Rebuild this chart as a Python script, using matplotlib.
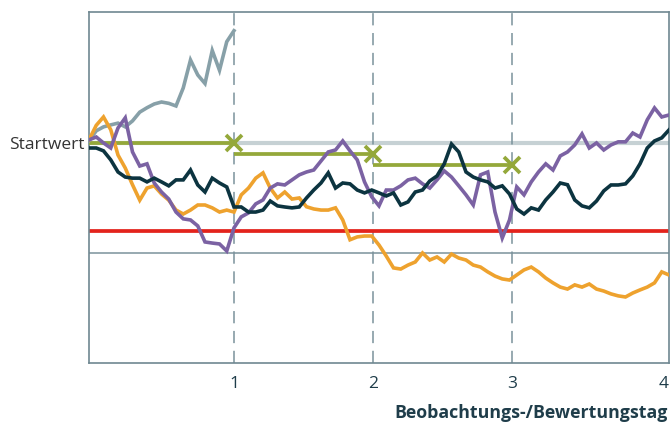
import numpy as np
import matplotlib.pyplot as plt

# Zeitachse (Jahre), Stützstellen alle 0.05
time = np.round(np.arange(0, 4.0 + 1e-9, 0.05), 2)
obs_times = [1.0, 1.96, 2.92, 4.0]
obs_labels = ["1", "2", "3", "4"]

start_level = 100
barrier_level = 60
floor_level = 50
autocall_levels = [100, 95, 90]

# Kursverläufe in % vom Startwert
grey_path = [101, 105.5, 107.3, 108.2, 109, 107.3, 110, 114, 116, 117.7, 118.6,
             118, 116.8, 125, 137.7, 130.9, 127, 142, 133, 146, 151]

orange_path = [101.4, 108, 111.8, 106, 94.5, 88.6, 81, 74, 79.5, 80.5, 76.8,
               74, 69.5, 67.7, 69.5, 71.8, 71.8, 70.5, 68.6, 69.5, 68.6,
               76.4, 79.5, 84, 86.4, 79.5, 75, 77.7, 74.5, 75, 71,
               70, 69.5, 69.5, 70.5, 65, 56, 57.3, 57.7, 57.7, 53.6,
               48.6, 43.2, 42.7, 44.5, 45.9, 50, 46.8, 48.2, 45.9, 49.5,
               47.7, 46.8, 44.5, 43.6, 41.4, 39.5, 38.2, 37.7, 40, 42.3,
               43.6, 41.4, 38.6, 36.4, 34.5, 33.6, 35.5, 34.5, 35.9, 33.6,
               32.7, 31.4, 30.5, 30, 31.8, 33.2, 34.5, 36.4, 41.4, 40]

purple_path = [101.4, 102.7, 100, 97.7, 106.8, 111.4, 95.9, 89.5, 90.5, 81.8, 77.7,
               74.5, 68.6, 65.5, 65, 62.3, 55, 54.5, 54.1, 50.9, 61.4,
               66.4, 68.2, 72.3, 74.1, 79.5, 81.4, 80.9, 83.2, 85.5, 86.8,
               87.7, 91.8, 95.9, 96.8, 100.9, 96.4, 92.3, 82.3, 75.5, 71.4,
               78.6, 78.6, 80.5, 83.2, 84, 81.4, 79.5, 83.2, 87.3, 84.5,
               80.5, 76.4, 71.8, 85.5, 86.8, 68.6, 56.8, 65, 80, 76.4,
               82.3, 86.8, 90.5, 87.7, 94.1, 95.9, 99.1, 104.1, 97.7, 100,
               96.8, 99.1, 100.5, 100.5, 104.5, 102.7, 110.5, 115.9, 111.8, 112.7]

teal_path = [97.7, 97.7, 96.4, 92.3, 86.8, 84.5, 84, 84, 82.3, 84, 82.3,
             80.5, 83.2, 83.2, 87.7, 80.9, 77.7, 84, 81.8, 80, 70.9,
             70.9, 68.6, 68.6, 69.5, 73.6, 71.4, 70.9, 70.5, 70.9, 75,
             78.6, 81.8, 86.4, 79.5, 81.8, 81.4, 78.6, 77.3, 78.6, 77.3,
             75.9, 77.3, 71.8, 73.2, 77.7, 78.6, 82.7, 85, 90.5, 99.5,
             95.9, 86.8, 84.5, 83.2, 82.3, 79.5, 80.5, 76.8, 70, 67.7,
             70.5, 69.5, 74.1, 77.7, 81.8, 81, 74.1, 71.4, 70.5, 73.6,
             78.2, 80.9, 80.9, 81.4, 85, 90.5, 97.7, 100.9, 102.3, 105.9]

# Farben
c_grey = "#87a0a8"
c_orange = "#eea22e"
c_purple = "#7b62a3"
c_teal = "#0c3440"
c_green = "#94a83a"
c_red = "#e3231c"
c_light = "#c6d1d4"
c_axis = "#7a929b"
c_text = "#1f3d4a"

plt.rcParams["font.family"] = ["Open Sans", "DejaVu Sans"]

fig = plt.figure(figsize=(6.72, 4.23), dpi=100)
ax = fig.add_axes([89 / 672, 60 / 423, 580 / 672, 351 / 423])

ax.set_xlim(0, 4)
ax.set_ylim(0, 159.5)

# Hilfslinien
ax.axhline(start_level, color=c_light, lw=3, zorder=1)
ax.axhline(floor_level, color=c_axis, lw=1.1, zorder=1)
ax.axhline(barrier_level, color=c_red, lw=2.7, zorder=2)
for obs in obs_times[:3]:
    ax.axvline(obs, color=c_axis, lw=1.1, dashes=(8, 5), zorder=1)

# Autocall-Schwellen (Stufen)
seg_starts = [0] + obs_times[:2]
for x0, x1, lvl in zip(seg_starts, obs_times[:3], autocall_levels):
    ax.hlines(lvl, x0, x1, color=c_green, lw=2.7, zorder=3)
ax.plot(obs_times[:3], autocall_levels, "x", color=c_green, ms=11, mew=2.7, zorder=6)

# Kursverläufe
line_kw = dict(lw=2.6, solid_joinstyle="miter")
ax.plot(time[:len(grey_path)], grey_path, color=c_grey, zorder=4, **line_kw)
ax.plot(time, orange_path, color=c_orange, zorder=4, **line_kw)
ax.plot(time, purple_path, color=c_purple, zorder=4, **line_kw)
ax.plot(time, teal_path, color=c_teal, zorder=5, **line_kw)

# Achsen
for sp in ax.spines.values():
    sp.set_color("#6f8891")
    sp.set_linewidth(1.2)

ax.set_xticks(obs_times)
ax.set_xticklabels(obs_labels)
ax.get_xticklabels()[-1].set_horizontalalignment("right")
ax.set_yticks([start_level])
ax.set_yticklabels(["Startwert"])
ax.tick_params(axis="x", length=0, pad=9, labelsize=12.5, labelcolor=c_text)
ax.tick_params(axis="y", length=0, pad=3, labelsize=12.5, labelcolor="#333333")

fig.text(668 / 672, 5 / 423, "Beobachtungs-/Bewertungstag", ha="right", va="baseline",
         fontsize=12.8, fontweight="bold", color=c_text)

plt.savefig("out.png", dpi=100)
